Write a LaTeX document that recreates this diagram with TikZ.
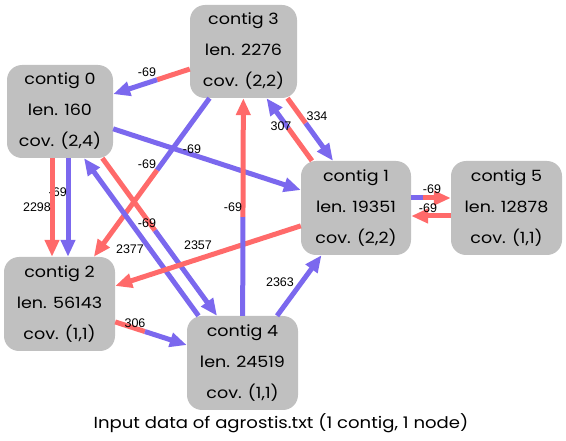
\documentclass[tikz,border=0pt]{standalone}
\usepackage{fontspec}
\setmainfont{Poppins}[FakeStretch=1.13]
\newfontfamily\labelfont{Liberation Sans}
\usetikzlibrary{arrows.meta,calc}
\definecolor{ered}{RGB}{255,106,106}
\definecolor{eblue}{RGB}{123,104,238}
\definecolor{nodegray}{RGB}{192,192,192}
\begin{document}
\begin{tikzpicture}[x=1pt,y=-1pt,
  contig/.style={rectangle, rounded corners=15pt, fill=nodegray, inner sep=0pt,
    align=center, font=\fontsize{15.5}{31}\selectfont},
  edge/.style={line width=5pt},
  arr/.style={-{Triangle[length=17pt,width=14pt]}},
  elabel/.style={font=\labelfont\fontsize{12.5}{14}\selectfont, inner sep=0pt}]
\useasboundingbox (0,0) rectangle (566,441);
% nodes
\node[contig, minimum width=106pt, minimum height=93pt] (c0) at (60,111.5) {contig 0\\len. 160\\cov. (2,4)};
\node[contig, minimum width=110pt, minimum height=94pt] (c1) at (356,208) {contig 1\\len. 19351\\cov. (2,2)};
\node[contig, minimum width=111pt, minimum height=94pt] (c2) at (59.5,304) {contig 2\\len. 56143\\cov. (1,1)};
\node[contig, minimum width=107pt, minimum height=93pt] (c3) at (243.5,51.5) {contig 3\\len. 2276\\cov. (2,2)};
\node[contig, minimum width=111pt, minimum height=94pt] (c4) at (242.5,363) {contig 4\\len. 24519\\cov. (1,1)};
\node[contig, minimum width=111pt, minimum height=94pt] (c5) at (506.5,208) {contig 5\\len. 12878\\cov. (1,1)};
% helper coordinates
\coordinate (sA) at ($(c3)!0.471!(c0)$);
\coordinate (sC) at ($(c3)!0.47!(c2)$);
\coordinate (sH) at ($(c4)!0.469!(c3)$);
\coordinate (sJ) at ($(c2)!0.467!(c4)$);
\coordinate (e1) at ([xshift=42.4pt]c0.south);
\coordinate (e2) at ([xshift=-25.5pt]c4.north);
\coordinate (sE) at ($(e1)!0.459!(e2)$);
\coordinate (k1) at ([xshift=44pt]c3.south);
\coordinate (k2) at ([xshift=-23pt]c1.north);
\coordinate (sK) at ($(k1)!0.4!(k2)$);
\coordinate (l1) at ([xshift=-44pt]c1.north);
\coordinate (l2) at ([xshift=23pt]c3.south);
\coordinate (sL) at ($(l1)!0.52!(l2)$);
\coordinate (m1) at ([yshift=10pt]c1.east);
\coordinate (m2) at ([yshift=10pt]c5.west);
\coordinate (sM) at ($(m1)!0.3!(m2)$);
% A: contig 3 -> contig 0
\draw[edge,ered] (c3) -- (sA);
\draw[edge,eblue,arr] (sA) -- (c0);
% B: contig 0 -> contig 1
\draw[edge,eblue,arr] (c0) -- (c1);
% C: contig 3 -> contig 2
\draw[edge,eblue] (c3) -- (sC);
\draw[edge,ered,arr] (sC) -- (c2);
% D2: contig 0 -> contig 2 (blue)
\draw[edge,eblue,arr] ([xshift=8pt]c0.south) -- ([xshift=8.5pt]c2.north);
\node[elabel, anchor=east] (lD2) at (67,192) {-69};
% D1: contig 0 -> contig 2 (red)
\draw[edge,ered,arr] ([xshift=-8pt]c0.south) -- ([xshift=-7.5pt]c2.north);
% E: contig 0 -> contig 4
\draw[edge,ered] (e1) -- (sE);
\draw[edge,eblue,arr] (sE) -- (e2);
% F: contig 4 -> contig 0
\draw[edge,eblue,arr] ([xshift=-44pt]c4.north) -- ([xshift=24pt]c0.south);
% G: contig 1 -> contig 2
\draw[edge,ered,arr] (c1) -- (c2);
% H: contig 4 -> contig 3
\draw[edge,eblue] (c4) -- (sH);
\draw[edge,ered,arr] (sH) -- (c3);
% I: contig 4 -> contig 1
\draw[edge,eblue,arr] (c4) -- (c1);
% J: contig 2 -> contig 4
\draw[edge,ered] (c2) -- (sJ);
\draw[edge,eblue,arr] (sJ) -- (c4);
% K: contig 3 -> contig 1
\draw[edge,ered] (k1) -- (sK);
\draw[edge,eblue,arr] (sK) -- (k2);
% L: contig 1 -> contig 3
\draw[edge,ered] (l1) -- (sL);
\draw[edge,eblue,arr] (sL) -- (l2);
% M: contig 1 -> contig 5
\draw[edge,eblue] (m1) -- (sM);
\draw[edge,ered,arr] (sM) -- (m2);
% N: contig 5 -> contig 1
\draw[edge,ered,arr] ([yshift=-8pt]c5.west) -- ([yshift=-8pt]c1.east);
% edge labels
\node[elabel] (lA) at (147,72) {-69};
\node[elabel] (lB) at (192,149) {-69};
\node[elabel] (lC) at (147,164) {-69};
\node[elabel] (lD1) at (37,207) {2298};
\node[elabel] (lE) at (147,223) {-69};
\node[elabel] (lF) at (130,249) {2377};
\node[elabel] (lG) at (198,245) {2357};
\node[elabel] (lH) at (233,207) {-69};
\node[elabel] (lI) at (280,282) {2363};
\node[elabel] (lJ) at (135,323) {306};
\node[elabel] (lK) at (317,116) {334};
\node[elabel] (lL) at (281,126) {307};
\node[elabel] (lM) at (432,189) {-69};
\node[elabel] (lN) at (428,208) {-69};
% caption
\node[font=\fontsize{16}{18}\selectfont, inner sep=0pt] (cap) at (281,423) {Input data of agrostis.txt (1 contig, 1 node)};
\end{tikzpicture}
\end{document}
